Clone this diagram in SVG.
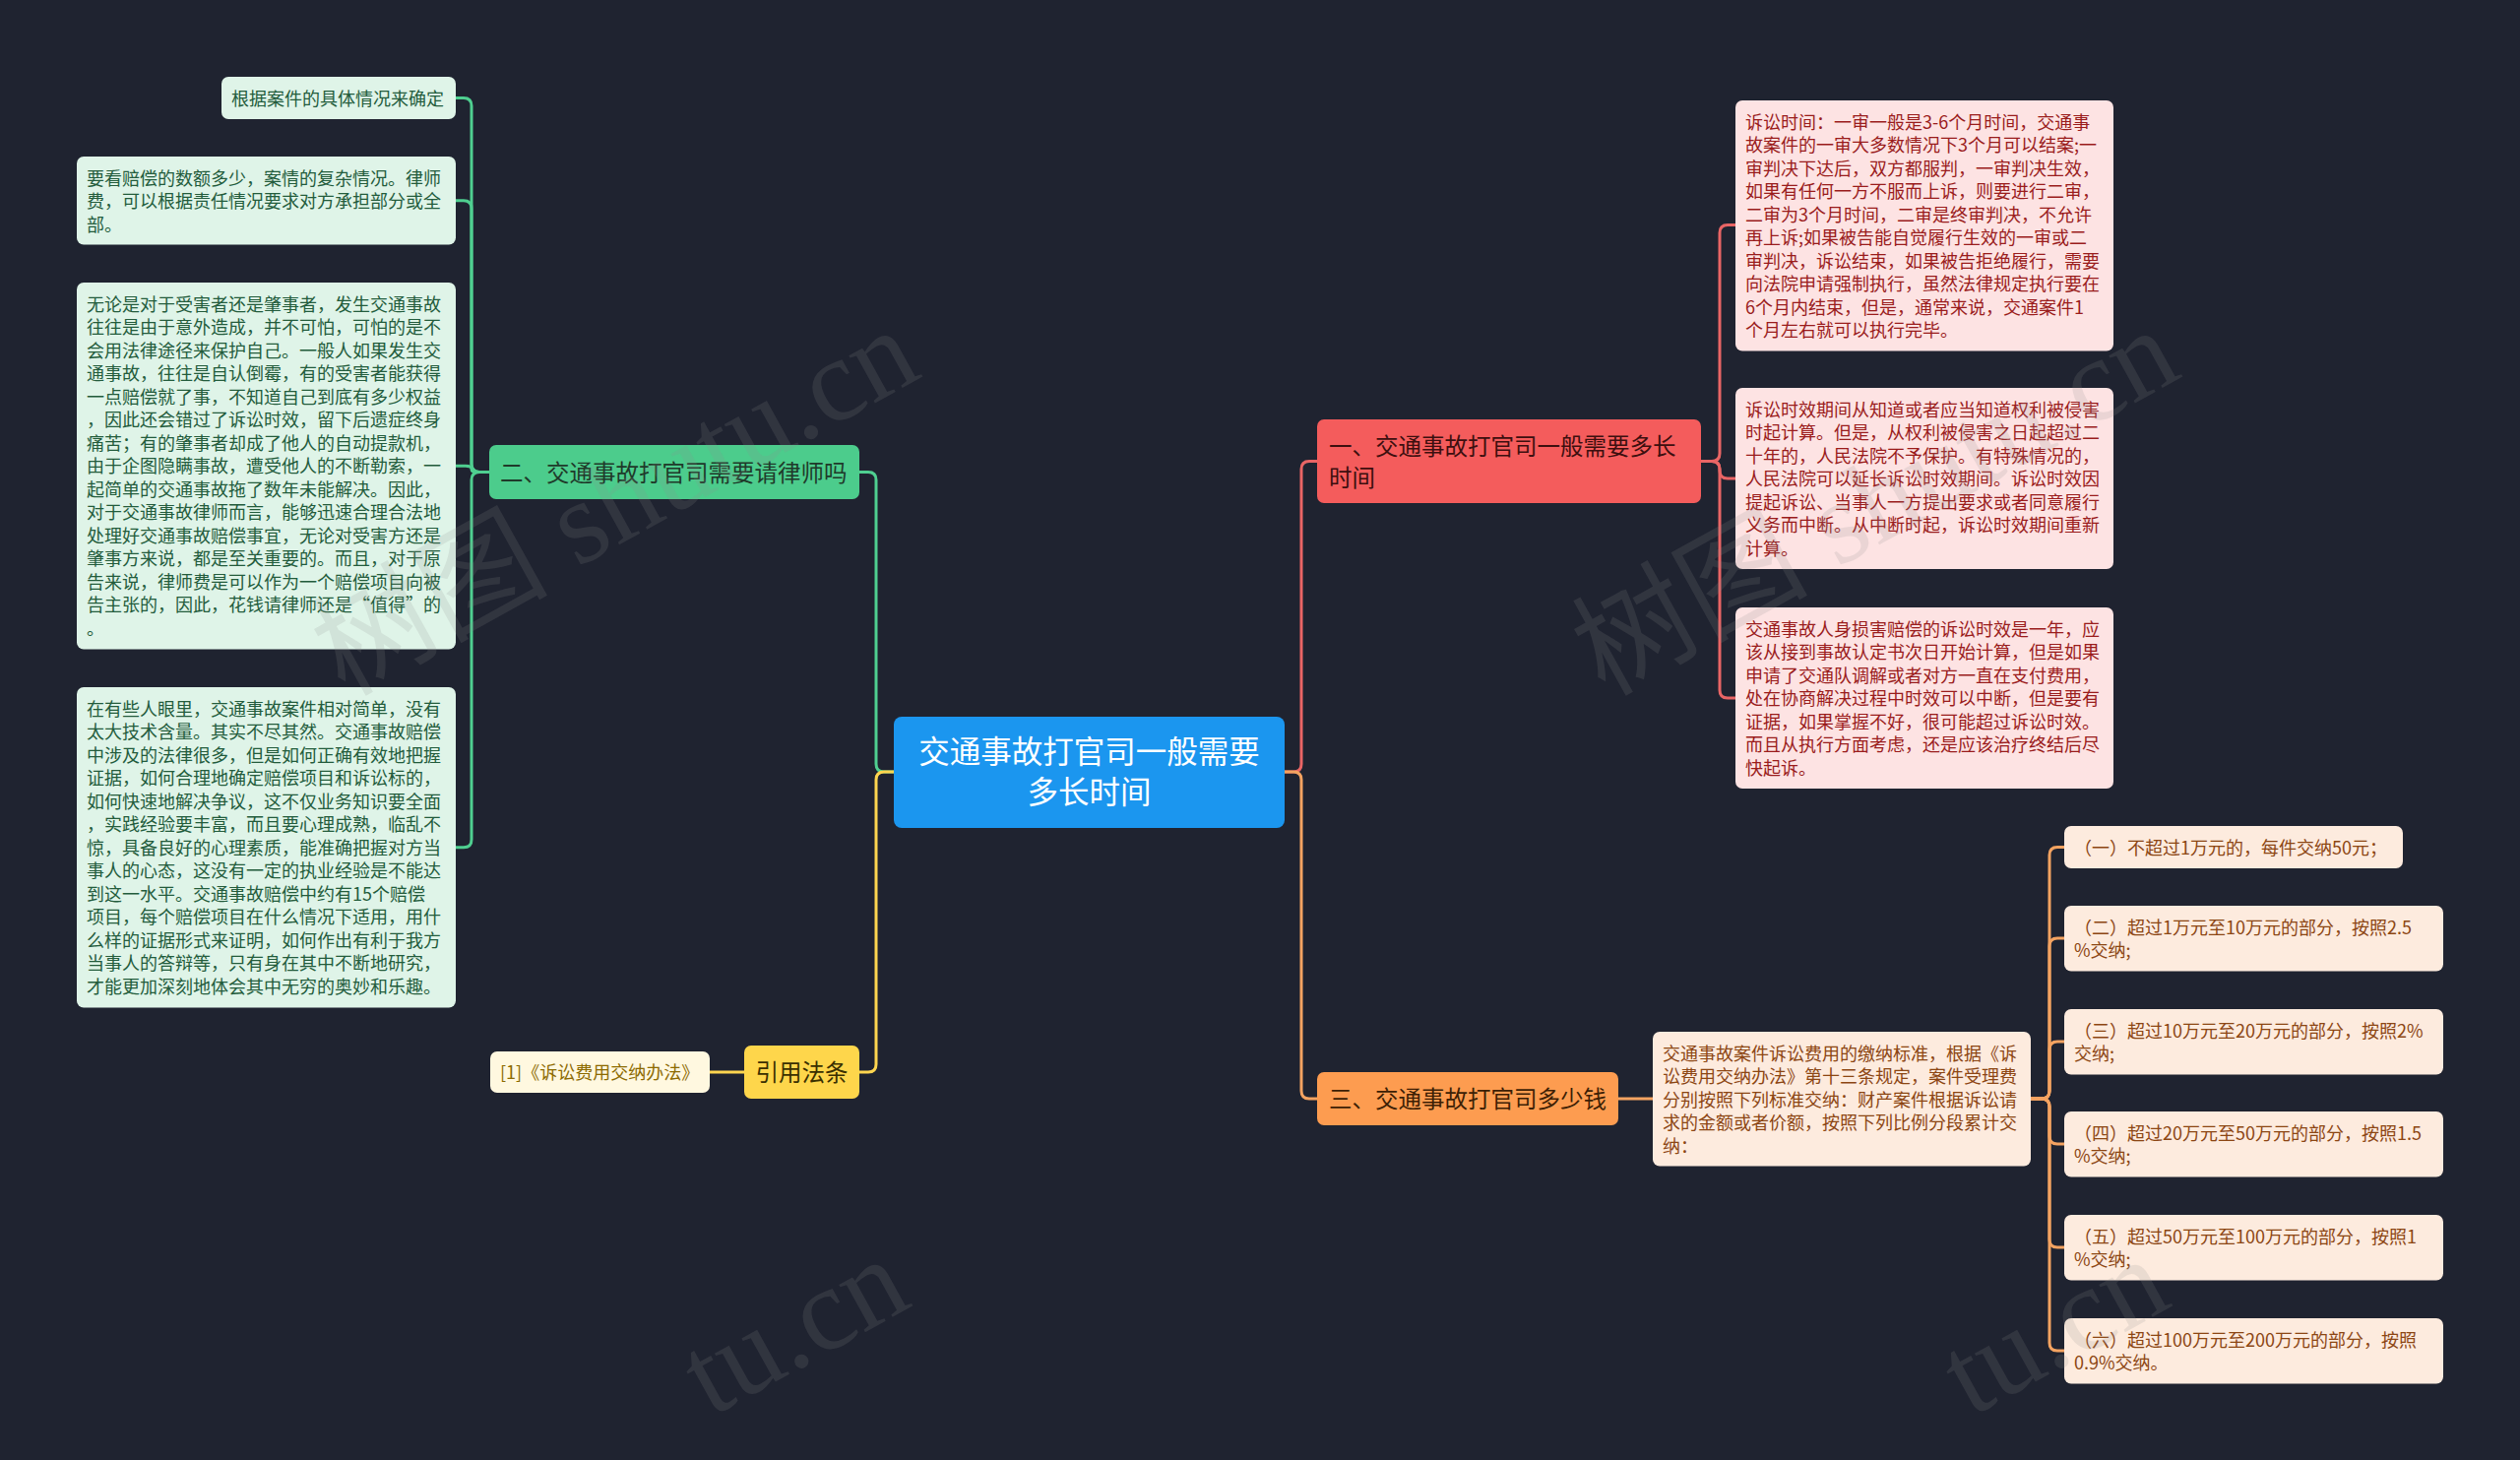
<svg xmlns="http://www.w3.org/2000/svg" width="2560" height="1483" viewBox="0 0 2560 1483">
<style>
text{font-family:"Noto Sans CJK SC","Noto Sans",sans-serif;}
.t18{font-size:18px;}
.t24{font-size:23.5px;}
.t32{font-size:31.5px;}
.c{fill:none;stroke-width:3;stroke-linecap:round;stroke-linejoin:round;}
.cg{stroke:#4fcf90;} .cy{stroke:#ffd54f;} .cr{stroke:#e96565;} .co{stroke:#f4a361;}
.ng{fill:#4ccc8c;} .tng{fill:#1f3a2a;}
.lg{fill:#dff4e8;} .tlg{fill:#235c3c;}
.ny{fill:#fed64b;} .tny{fill:#3a2f00;}
.ly{fill:#fff8e0;} .tly{fill:#8c6a00;}
.nr{fill:#f45c5c;} .tnr{fill:#3d0f0f;}
.lr{fill:#fde3e3;} .tlr{fill:#9a1c1c;}
.no{fill:#fd9c50;} .tno{fill:#3d1f05;}
.lo{fill:#fdebde;} .tlo{fill:#8c4613;}
.wm{font-family:"Liberation Serif","Noto Sans CJK SC",serif;font-size:120px;fill:rgba(140,140,140,0.17);}
</style>
<rect x="0" y="0" width="2560" height="1483" fill="#1f2330"/>

<g id="connectors">
  <path class="c cg" d="M908 784 H898 Q890 784 890 776 V487.5 Q890 479.5 882 479.5 H873"/>
  <path class="c cy" d="M908 784 H898 Q890 784 890 792 V1081 Q890 1089 882 1089 H873"/>
  <path class="c cg" d="M497 479.5 H487 Q479 479.5 479 471.5 V107.5 Q479 99.5 471 99.5 H463"/>
  <path class="c cg" d="M497 479.5 H487 Q479 479.5 479 471.5 V211.75 Q479 203.75 471 203.75 H463"/>
  <path class="c cg" d="M497 479.5 H485 Q479 479.5 479 476.4 Q479 473.25 473 473.25 H463"/>
  <path class="c cg" d="M497 479.5 H487 Q479 479.5 479 487.5 V852.75 Q479 860.75 471 860.75 H463"/>
  <path class="c cy" d="M756 1089 H721"/>
  <path class="c cr" d="M1305 784 H1314 Q1322 784 1322 776 V476.5 Q1322 468.5 1330 468.5 H1338"/>
  <path class="c co" d="M1305 784 H1314 Q1322 784 1322 792 V1108 Q1322 1116 1330 1116 H1338"/>
  <path class="c cr" d="M1728 468.5 H1739 Q1747 468.5 1747 460.5 V236.5 Q1747 228.5 1755 228.5 H1763"/>
  <path class="c cr" d="M1728 468.5 H1739 Q1747 468.5 1747 476.5 V478 Q1747 486 1755 486 H1763"/>
  <path class="c cr" d="M1728 468.5 H1739 Q1747 468.5 1747 476.5 V701 Q1747 709 1755 709 H1763"/>
  <path class="c co" d="M1644 1116 H1679"/>
  <path class="c co" d="M2063 1116 H2074 Q2082 1116 2082 1108 V868.5 Q2082 860.5 2090 860.5 H2097"/>
  <path class="c co" d="M2063 1116 H2074 Q2082 1116 2082 1108 V961 Q2082 953 2090 953 H2097"/>
  <path class="c co" d="M2063 1116 H2074 Q2082 1116 2082 1108 V1066 Q2082 1058 2090 1058 H2097"/>
  <path class="c co" d="M2063 1116 H2074 Q2082 1116 2082 1124 V1154 Q2082 1162 2090 1162 H2097"/>
  <path class="c co" d="M2063 1116 H2074 Q2082 1116 2082 1124 V1259 Q2082 1267 2090 1267 H2097"/>
  <path class="c co" d="M2063 1116 H2074 Q2082 1116 2082 1124 V1364 Q2082 1372 2090 1372 H2097"/>
</g>

<g id="center">
  <rect x="908" y="728" width="397" height="113" rx="8" fill="#1b96ef"/>
  <text class="t32" fill="#ffffff" text-anchor="middle"><tspan x="1106.5" y="775">交通事故打官司一般需要</tspan><tspan x="1106.5" y="816">多长时间</tspan></text>
</g>

<g id="branch-lawyer">
  <rect class="ng" x="497" y="452" width="376" height="55" rx="7"/>
  <text class="t24 tng" x="508" y="489">二、交通事故打官司需要请律师吗</text>
</g>
<g id="leaf-l1">
  <rect class="lg" x="225" y="78" width="238" height="43" rx="7"/>
  <text class="t18 tlg" x="235" y="106.5">根据案件的具体情况来确定</text>
</g>
<g id="leaf-l2">
  <rect class="lg" x="78" y="159" width="385" height="89.5" rx="7"/>
  <text class="t18 tlg"><tspan x="88" y="187.5">要看赔偿的数额多少，案情的复杂情况。律师</tspan><tspan x="88" dy="23.5">费，可以根据责任情况要求对方承担部分或全</tspan><tspan x="88" dy="23.5">部。</tspan></text>
</g>
<g id="leaf-l3">
  <rect class="lg" x="78" y="287" width="385" height="372.5" rx="7"/>
  <text class="t18 tlg"><tspan x="88" y="315.5">无论是对于受害者还是肇事者，发生交通事故</tspan><tspan x="88" dy="23.5">往往是由于意外造成，并不可怕，可怕的是不</tspan><tspan x="88" dy="23.5">会用法律途径来保护自己。一般人如果发生交</tspan><tspan x="88" dy="23.5">通事故，往往是自认倒霉，有的受害者能获得</tspan><tspan x="88" dy="23.5">一点赔偿就了事，不知道自己到底有多少权益</tspan><tspan x="88" dy="23.5">，因此还会错过了诉讼时效，留下后遗症终身</tspan><tspan x="88" dy="23.5">痛苦；有的肇事者却成了他人的自动提款机，</tspan><tspan x="88" dy="23.5">由于企图隐瞒事故，遭受他人的不断勒索，一</tspan><tspan x="88" dy="23.5">起简单的交通事故拖了数年未能解决。因此，</tspan><tspan x="88" dy="23.5">对于交通事故律师而言，能够迅速合理合法地</tspan><tspan x="88" dy="23.5">处理好交通事故赔偿事宜，无论对受害方还是</tspan><tspan x="88" dy="23.5">肇事方来说，都是至关重要的。而且，对于原</tspan><tspan x="88" dy="23.5">告来说，律师费是可以作为一个赔偿项目向被</tspan><tspan x="88" dy="23.5">告主张的，因此，花钱请律师还是“值得”的</tspan><tspan x="88" dy="23.5">。</tspan></text>
</g>
<g id="leaf-l4">
  <rect class="lg" x="78" y="698" width="385" height="325.5" rx="7"/>
  <text class="t18 tlg"><tspan x="88" y="726.5">在有些人眼里，交通事故案件相对简单，没有</tspan><tspan x="88" dy="23.5">太大技术含量。其实不尽其然。交通事故赔偿</tspan><tspan x="88" dy="23.5">中涉及的法律很多，但是如何正确有效地把握</tspan><tspan x="88" dy="23.5">证据，如何合理地确定赔偿项目和诉讼标的，</tspan><tspan x="88" dy="23.5">如何快速地解决争议，这不仅业务知识要全面</tspan><tspan x="88" dy="23.5">，实践经验要丰富，而且要心理成熟，临乱不</tspan><tspan x="88" dy="23.5">惊，具备良好的心理素质，能准确把握对方当</tspan><tspan x="88" dy="23.5">事人的心态，这没有一定的执业经验是不能达</tspan><tspan x="88" dy="23.5">到这一水平。交通事故赔偿中约有15个赔偿</tspan><tspan x="88" dy="23.5">项目，每个赔偿项目在什么情况下适用，用什</tspan><tspan x="88" dy="23.5">么样的证据形式来证明，如何作出有利于我方</tspan><tspan x="88" dy="23.5">当事人的答辩等，只有身在其中不断地研究，</tspan><tspan x="88" dy="23.5">才能更加深刻地体会其中无穷的奥妙和乐趣。</tspan></text>
</g>

<g id="branch-law">
  <rect class="ny" x="756" y="1062" width="117" height="54" rx="7"/>
  <text class="t24 tny" x="814.5" y="1098" text-anchor="middle">引用法条</text>
</g>
<g id="leaf-law">
  <rect class="ly" x="498" y="1068" width="223" height="42" rx="7"/>
  <text class="t18 tly" x="508" y="1096">[1]《诉讼费用交纳办法》</text>
</g>

<g id="branch-time">
  <rect class="nr" x="1338" y="426" width="390" height="85" rx="7"/>
  <text class="t24 tnr"><tspan x="1350" y="462">一、交通事故打官司一般需要多长</tspan><tspan x="1350" y="494">时间</tspan></text>
</g>
<g id="leaf-r1">
  <rect class="lr" x="1763" y="102" width="384" height="254.5" rx="7"/>
  <text class="t18 tlr"><tspan x="1773" y="130.5">诉讼时间：一审一般是3-6个月时间，交通事</tspan><tspan x="1773" dy="23.5">故案件的一审大多数情况下3个月可以结案;一</tspan><tspan x="1773" dy="23.5">审判决下达后，双方都服判，一审判决生效，</tspan><tspan x="1773" dy="23.5">如果有任何一方不服而上诉，则要进行二审，</tspan><tspan x="1773" dy="23.5">二审为3个月时间，二审是终审判决，不允许</tspan><tspan x="1773" dy="23.5">再上诉;如果被告能自觉履行生效的一审或二</tspan><tspan x="1773" dy="23.5">审判决，诉讼结束，如果被告拒绝履行，需要</tspan><tspan x="1773" dy="23.5">向法院申请强制执行，虽然法律规定执行要在</tspan><tspan x="1773" dy="23.5">6个月内结束，但是，通常来说，交通案件1</tspan><tspan x="1773" dy="23.5">个月左右就可以执行完毕。</tspan></text>
</g>
<g id="leaf-r2">
  <rect class="lr" x="1763" y="394" width="384" height="184" rx="7"/>
  <text class="t18 tlr"><tspan x="1773" y="422.5">诉讼时效期间从知道或者应当知道权利被侵害</tspan><tspan x="1773" dy="23.5">时起计算。但是，从权利被侵害之日起超过二</tspan><tspan x="1773" dy="23.5">十年的，人民法院不予保护。有特殊情况的，</tspan><tspan x="1773" dy="23.5">人民法院可以延长诉讼时效期间。诉讼时效因</tspan><tspan x="1773" dy="23.5">提起诉讼、当事人一方提出要求或者同意履行</tspan><tspan x="1773" dy="23.5">义务而中断。从中断时起，诉讼时效期间重新</tspan><tspan x="1773" dy="23.5">计算。</tspan></text>
</g>
<g id="leaf-r3">
  <rect class="lr" x="1763" y="617" width="384" height="184" rx="7"/>
  <text class="t18 tlr"><tspan x="1773" y="645.5">交通事故人身损害赔偿的诉讼时效是一年，应</tspan><tspan x="1773" dy="23.5">该从接到事故认定书次日开始计算，但是如果</tspan><tspan x="1773" dy="23.5">申请了交通队调解或者对方一直在支付费用，</tspan><tspan x="1773" dy="23.5">处在协商解决过程中时效可以中断，但是要有</tspan><tspan x="1773" dy="23.5">证据，如果掌握不好，很可能超过诉讼时效。</tspan><tspan x="1773" dy="23.5">而且从执行方面考虑，还是应该治疗终结后尽</tspan><tspan x="1773" dy="23.5">快起诉。</tspan></text>
</g>

<g id="branch-cost">
  <rect class="no" x="1338" y="1089" width="306" height="54" rx="7"/>
  <text class="t24 tno" x="1350" y="1125">三、交通事故打官司多少钱</text>
</g>
<g id="leaf-cost">
  <rect class="lo" x="1679" y="1048" width="384" height="136.5" rx="7"/>
  <text class="t18 tlo"><tspan x="1689" y="1076.5">交通事故案件诉讼费用的缴纳标准，根据《诉</tspan><tspan x="1689" dy="23.5">讼费用交纳办法》第十三条规定，案件受理费</tspan><tspan x="1689" dy="23.5">分别按照下列标准交纳：财产案件根据诉讼请</tspan><tspan x="1689" dy="23.5">求的金额或者价额，按照下列比例分段累计交</tspan><tspan x="1689" dy="23.5">纳：</tspan></text>
</g>
<g id="leaf-g1">
  <rect class="lo" x="2097" y="839" width="344" height="43" rx="7"/>
  <text class="t18 tlo" x="2107" y="867.5">（一）不超过1万元的，每件交纳50元；</text>
</g>
<g id="leaf-g2">
  <rect class="lo" x="2097" y="920" width="385" height="66.5" rx="7"/>
  <text class="t18 tlo"><tspan x="2107" y="948.5">（二）超过1万元至10万元的部分，按照2.5</tspan><tspan x="2107" dy="23.5">%交纳;</tspan></text>
</g>
<g id="leaf-g3">
  <rect class="lo" x="2097" y="1025" width="385" height="66.5" rx="7"/>
  <text class="t18 tlo"><tspan x="2107" y="1053.5">（三）超过10万元至20万元的部分，按照2%</tspan><tspan x="2107" dy="23.5">交纳;</tspan></text>
</g>
<g id="leaf-g4">
  <rect class="lo" x="2097" y="1129" width="385" height="66.5" rx="7"/>
  <text class="t18 tlo"><tspan x="2107" y="1157.5">（四）超过20万元至50万元的部分，按照1.5</tspan><tspan x="2107" dy="23.5">%交纳;</tspan></text>
</g>
<g id="leaf-g5">
  <rect class="lo" x="2097" y="1234" width="385" height="66.5" rx="7"/>
  <text class="t18 tlo"><tspan x="2107" y="1262.5">（五）超过50万元至100万元的部分，按照1</tspan><tspan x="2107" dy="23.5">%交纳;</tspan></text>
</g>
<g id="leaf-g6">
  <rect class="lo" x="2097" y="1339" width="385" height="66.5" rx="7"/>
  <text class="t18 tlo"><tspan x="2107" y="1367.5">（六）超过100万元至200万元的部分，按照</tspan><tspan x="2107" dy="23.5">0.9%交纳。</tspan></text>
</g>

<g id="watermark">
  <text class="wm" x="350" y="708" transform="rotate(-29 350 708)">树图 shutu.cn</text>
  <text class="wm" x="1630" y="708" transform="rotate(-29 1630 708)">树图 shutu.cn</text>
  <text class="wm" x="722" y="1440" transform="rotate(-29 722 1440)">tu.cn</text>
  <text class="wm" x="2002" y="1440" transform="rotate(-29 2002 1440)">tu.cn</text>
</g>
</svg>
